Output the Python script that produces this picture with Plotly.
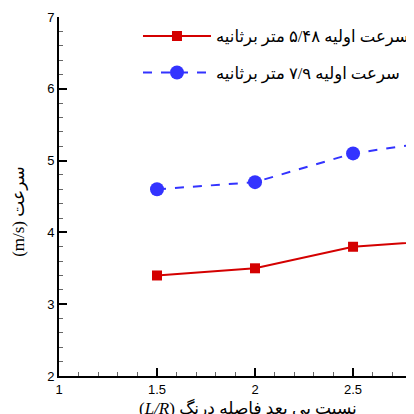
import plotly.graph_objects as go

x_vals = [1.5, 2.0, 2.5, 3.0]
speed_548 = [3.4, 3.5, 3.8, 3.9]
speed_79 = [4.6, 4.7, 5.1, 5.3]

name_548 = "سرعت اولیه ۵/۴۸ متر برثانیه"
name_79 = "سرعت اولیه ۷/۹ متر برثانیه"

x_title = "(<i>L/R</i>) نسبت بی بعد فاصله درنگ"
y_title = "(m/s) سرعت"

x_ticks = [1, 1.5, 2, 2.5, 3]
x_ticktext = ["1", "1.5", "2", "2.5", "3"]
y_ticks = [2, 3, 4, 5, 6, 7]

serif = "Liberation Serif, DejaVu Sans, serif"

fig = go.Figure()
fig.add_trace(go.Scatter(
    x=x_vals, y=speed_548, name=name_548, mode="lines+markers",
    line=dict(color="#d40000", width=2),
    marker=dict(symbol="square", size=10, color="#d40000"),
    legendgroup="a",
))
fig.add_trace(go.Scatter(
    x=x_vals, y=speed_79, name=name_79, mode="lines+markers",
    line=dict(color="#3333ff", width=2, dash="dash"),
    marker=dict(symbol="circle", size=14, color="#3333ff"),
    legendgroup="b",
))

axis_font = dict(family="Liberation Sans, Arial, sans-serif", size=13, color="black")
fig.update_layout(
    width=414, height=414,
    margin=dict(l=51, r=8, t=9, b=46, autoexpand=False),
    plot_bgcolor="white", paper_bgcolor="white",
    showlegend=True,
    legend=dict(
        x=0.2225, y=0.995, xanchor="left", yanchor="top",
        bgcolor="rgba(0,0,0,0)", itemwidth=68,
        font=dict(family=serif, size=16.5, color="black"),
        traceorder="grouped", tracegroupgap=12,
    ),
    xaxis=dict(
        range=[1, 2.811], tickvals=x_ticks, ticktext=x_ticktext,
        ticks="inside", ticklen=8, tickwidth=1.5, tickcolor="black",
        minor=dict(ticks="inside", ticklen=4, dtick=0.1, tickcolor="#666", tickwidth=1),
        showline=True, linecolor="black", linewidth=2,
        showgrid=False, zeroline=False, tickfont=axis_font, automargin=False,
    ),
    yaxis=dict(
        range=[2, 7], tickvals=y_ticks,
        ticks="inside", ticklen=8, tickwidth=1.5, tickcolor="black",
        minor=dict(ticks="inside", ticklen=4, dtick=0.2, tickcolor="#666", tickwidth=1),
        showline=True, linecolor="black", linewidth=2,
        showgrid=False, zeroline=False, tickfont=axis_font, automargin=False,
    ),
    annotations=[
        dict(text=x_title, xref="paper", yref="paper", x=0.532, y=-0.088,
             xanchor="center", yanchor="middle", showarrow=False,
             font=dict(family=serif, size=17, color="black")),
        dict(text=y_title, xref="paper", yref="paper", x=-0.1127, y=0.46,
             xanchor="center", yanchor="middle", showarrow=False, textangle=-90,
             font=dict(family=serif, size=17, color="black")),
    ],
)

fig.write_html("out.html")
